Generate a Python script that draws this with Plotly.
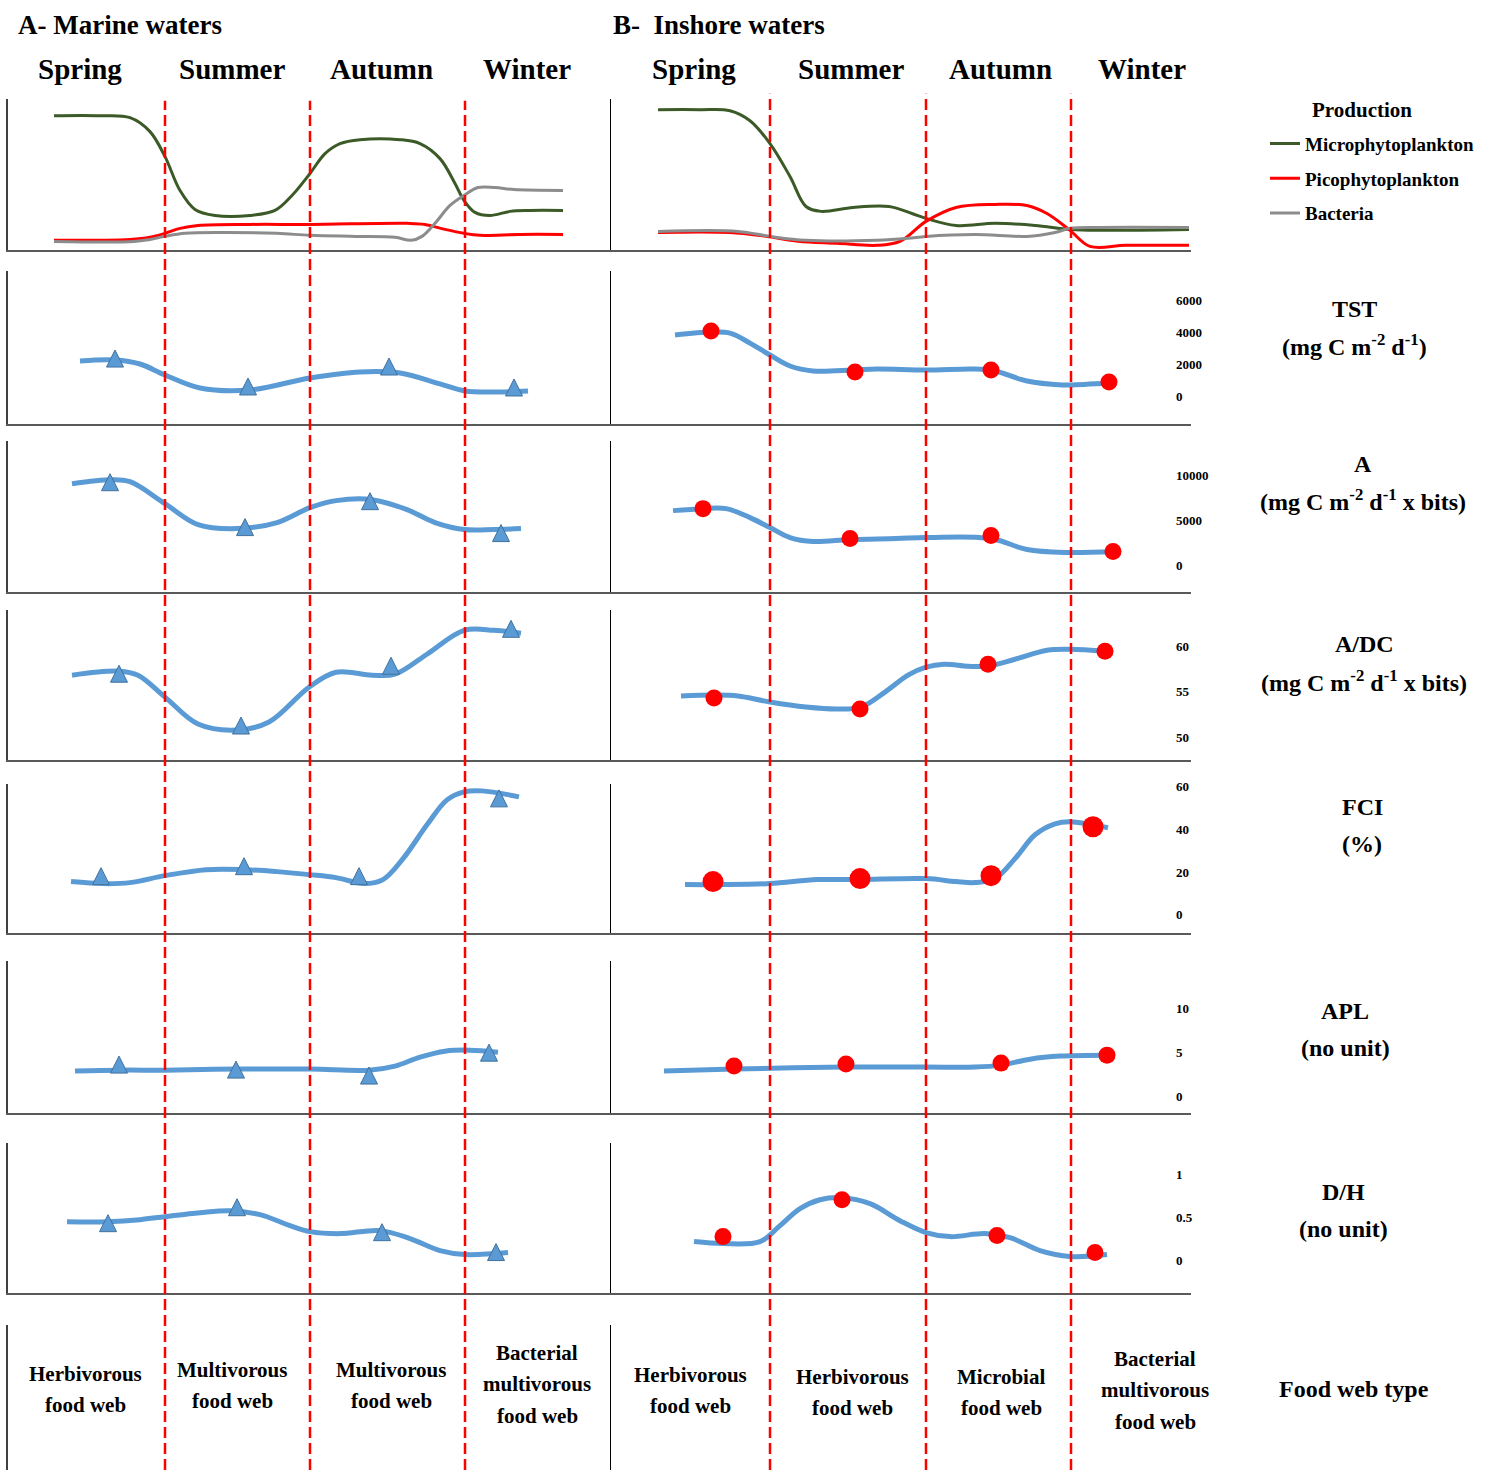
import plotly.graph_objects as go

W, H = 1499, 1470
FONT = "Liberation Serif"

# ---------------- data ----------------
seasons = ["Spring", "Summer", "Autumn", "Winter"]
season_bounds_A = [3.14, 6.04, 9.14]
season_bounds_B = [3.18, 6.30, 9.20]
time_range_A = [0, 12.04]
time_range_B = [0, 11.6]

# Production (relative units, 0-100)
micro_A_x = [0.92, 1.84, 2.44, 2.84, 3.14, 3.44, 3.74, 4.14, 4.84, 5.34, 5.68, 6.04, 6.34, 6.64, 7.04, 7.84, 8.24, 8.64, 8.94, 9.12, 9.34, 9.64, 10.04, 10.44, 11.10]
micro_A_y = [88.8, 88.8, 87.5, 78.3, 61.8, 39.5, 27.0, 23.0, 23.0, 26.3, 36.2, 50.7, 63.8, 70.4, 73.0, 73.0, 70.4, 60.5, 44.1, 32.9, 25.0, 23.0, 25.7, 26.3, 26.3]
pico_A_x = [0.92, 2.44, 2.84, 3.14, 3.44, 3.80, 4.84, 6.04, 7.98, 8.34, 8.74, 9.12, 9.44, 10.24, 11.10]
pico_A_y = [6.6, 7.2, 8.6, 11.2, 14.5, 16.4, 17.1, 17.1, 17.8, 17.1, 13.8, 11.2, 9.9, 10.5, 10.5]
bact_A_x = [0.92, 2.52, 2.84, 3.14, 3.54, 4.24, 5.38, 6.04, 6.96, 7.74, 8.06, 8.28, 8.54, 8.84, 9.12, 9.40, 9.74, 10.12, 11.10]
bact_A_y = [5.9, 5.9, 7.2, 9.2, 11.2, 11.8, 11.2, 9.9, 9.2, 8.6, 6.6, 9.2, 17.8, 29.6, 36.2, 41.4, 41.4, 40.1, 39.5]

micro_B_x = [0.94, 1.78, 2.38, 2.78, 3.18, 3.58, 3.90, 4.20, 4.84, 5.56, 6.02, 6.30, 6.90, 7.68, 8.48, 9.18, 9.74, 11.56]
micro_B_y = [92.8, 92.8, 92.1, 85.5, 70.4, 48.7, 28.9, 25.7, 28.3, 28.9, 24.3, 21.1, 16.4, 17.8, 16.4, 13.8, 13.2, 13.8]
pico_B_x = [0.94, 2.38, 3.10, 3.74, 4.52, 5.32, 5.78, 6.30, 6.90, 7.68, 8.32, 8.72, 9.18, 9.58, 10.30, 11.56]
pico_B_y = [11.8, 11.8, 9.2, 5.9, 4.6, 3.3, 5.9, 19.1, 28.3, 30.3, 29.6, 24.3, 13.2, 2.6, 3.3, 3.3]
bact_B_x = [0.94, 2.54, 3.18, 3.90, 5.32, 5.94, 6.30, 7.28, 8.32, 8.88, 9.18, 9.74, 11.56]
bact_B_y = [12.5, 12.5, 9.2, 6.6, 6.6, 7.9, 9.2, 10.5, 9.2, 11.8, 14.5, 15.1, 15.1]

# TST (mg C m-2 d-1)
tst_A_x = [1.44, 2.14, 2.64, 3.14, 3.84, 4.84, 6.04, 7.04, 7.84, 8.64, 9.14, 9.84, 10.40]
tst_A_y = [2226, 2288, 2041, 1360, 557, 433, 1175, 1546, 1484, 804, 371, 309, 371]
tst_A_mx = [2.14, 4.80, 7.62, 10.12]
tst_A_my = [2906, 1175, 2412, 1113]
tst_B_x = [1.28, 2.00, 2.38, 2.78, 3.18, 3.58, 4.04, 4.84, 5.32, 6.30, 7.28, 7.68, 8.32, 9.02, 9.18, 9.98]
tst_B_y = [3834, 4020, 3958, 3339, 2597, 1917, 1608, 1670, 1732, 1670, 1732, 1608, 989, 742, 742, 866]
tst_B_mx = [2.00, 4.88, 7.60, 9.96]
tst_B_my = [4081, 1546, 1670, 928]

# A (ascendency)
asc_A_x = [1.28, 2.06, 2.44, 3.14, 3.80, 4.58, 5.38, 6.04, 6.56, 7.28, 7.98, 8.54, 9.12, 9.72, 10.26]
asc_A_y = [9111, 9556, 9333, 6889, 4556, 4111, 4778, 6444, 7222, 7333, 6222, 4778, 4000, 4000, 4111]
asc_A_mx = [2.04, 4.74, 7.24, 9.86]
asc_A_my = [10222, 5222, 8111, 4556]
asc_B_x = [1.24, 1.84, 2.30, 2.78, 3.18, 3.58, 4.04, 4.78, 5.70, 6.30, 7.36, 7.76, 8.32, 9.10, 10.06]
asc_B_y = [6111, 6333, 6333, 5333, 4222, 3111, 2667, 2889, 3000, 3111, 3111, 2778, 1778, 1444, 1556]
asc_B_mx = [1.84, 4.78, 7.60, 10.04]
asc_B_my = [6333, 3000, 3333, 1556]

# A/DC
adc_A_x = [1.28, 2.22, 2.60, 3.14, 3.80, 4.58, 5.22, 6.02, 6.56, 7.28, 7.74, 8.38, 9.12, 9.72, 10.26]
adc_A_y = [56.81, 57.25, 56.81, 54.40, 51.43, 50.77, 51.65, 55.49, 57.14, 56.81, 56.92, 59.12, 61.76, 61.76, 61.43]
adc_A_mx = [2.22, 4.66, 7.66, 10.06]
adc_A_my = [57.91, 52.20, 58.79, 62.86]
adc_B_x = [1.40, 2.08, 2.54, 3.18, 3.90, 4.52, 5.00, 5.48, 5.94, 6.30, 6.66, 7.14, 7.52, 8.08, 8.72, 9.18, 9.90]
adc_B_y = [54.51, 54.62, 54.51, 53.85, 53.30, 53.08, 53.30, 54.95, 56.81, 57.69, 58.02, 57.80, 57.80, 58.57, 59.56, 59.67, 59.45]
adc_B_mx = [2.06, 4.98, 7.54, 9.88]
adc_B_my = [54.29, 53.08, 58.02, 59.45]

# FCI (%)
fci_A_x = [1.26, 1.90, 2.44, 3.14, 3.96, 4.74, 5.38, 6.02, 6.56, 7.12, 7.50, 7.90, 8.38, 8.78, 9.12, 9.48, 10.22]
fci_A_y = [15.47, 14.53, 15.00, 18.28, 21.10, 21.10, 20.16, 18.75, 17.35, 14.53, 16.41, 26.25, 42.19, 53.91, 57.67, 58.13, 55.32]
fci_A_mx = [1.86, 4.72, 7.02, 9.82]
fci_A_my = [22.03, 26.72, 22.03, 58.60]
fci_B_x = [1.48, 2.16, 3.18, 4.12, 4.92, 6.30, 6.90, 7.28, 7.68, 8.08, 8.48, 8.88, 9.18, 9.94]
fci_B_y = [14.06, 14.06, 14.53, 16.41, 16.41, 16.88, 15.47, 15.00, 16.88, 26.25, 37.51, 42.66, 43.60, 40.79]
fci_B_mx = [2.04, 4.98, 7.60, 9.64]
fci_B_my = [15.47, 16.88, 18.28, 41.26]

# APL (no unit)
apl_A_x = [1.34, 2.24, 3.14, 4.56, 6.04, 7.22, 7.74, 8.24, 8.74, 9.24, 9.80]
apl_A_y = [2.84, 2.95, 2.95, 3.07, 3.07, 2.95, 3.41, 4.43, 5.11, 5.23, 5.00]
apl_A_mx = [2.22, 4.56, 7.22, 9.62]
apl_A_my = [4.55, 3.98, 3.30, 5.91]
apl_B_x = [1.06, 2.46, 4.70, 6.30, 7.28, 7.80, 8.38, 8.98, 9.92]
apl_B_y = [2.84, 3.07, 3.30, 3.30, 3.30, 3.52, 4.20, 4.55, 4.66]
apl_B_mx = [2.46, 4.70, 7.80, 9.92]
apl_B_my = [3.41, 3.64, 3.75, 4.66]

# D/H (no unit)
dh_A_x = [1.18, 2.00, 2.64, 3.14, 3.84, 4.44, 5.04, 5.64, 6.04, 6.64, 7.44, 8.04, 8.64, 9.14, 10.00]
dh_A_y = [0.453, 0.453, 0.477, 0.512, 0.558, 0.581, 0.535, 0.407, 0.337, 0.314, 0.349, 0.256, 0.116, 0.070, 0.093]
dh_A_mx = [2.00, 4.58, 7.48, 9.76]
dh_A_my = [0.535, 0.721, 0.430, 0.198]
dh_B_x = [1.66, 2.24, 2.98, 3.38, 3.78, 4.18, 4.62, 5.18, 5.78, 6.30, 6.78, 7.48, 7.98, 8.58, 9.18, 9.92]
dh_B_y = [0.221, 0.198, 0.221, 0.407, 0.605, 0.709, 0.733, 0.663, 0.465, 0.326, 0.279, 0.314, 0.267, 0.116, 0.047, 0.070]
dh_B_mx = [2.24, 4.62, 7.72, 9.68]
dh_B_my = [0.279, 0.709, 0.291, 0.093]

# axis ranges and tick labels per row
prod_range = [0, 100]
tst_range, tst_ticks = [-1670, 7792], [0, 2000, 4000, 6000]
asc_range, asc_ticks = [-3000, 13889], [0, 5000, 10000]
adc_range, adc_ticks = [47.47, 63.96], [50, 55, 60]
fci_range, fci_ticks = [-8.91, 61.42], [0, 20, 40, 60]
apl_range, apl_ticks = [-1.93, 15.34], [0, 5, 10]
dh_range, dh_ticks = [-0.384, 1.372], [0, 0.5, 1]
dh_ticktext = ["0", "0.5", "1"]

metric_labels = [
    ("TST", "(mg C m<sup>-2</sup> d<sup>-1</sup>)"),
    ("A", "(mg C m<sup>-2</sup> d<sup>-1</sup> x bits)"),
    ("A/DC", "(mg C m<sup>-2</sup> d<sup>-1</sup> x bits)"),
    ("FCI", "(%)"),
    ("APL", "(no unit)"),
    ("D/H", "(no unit)"),
]
foodweb_A = ["Herbivorous\nfood web", "Multivorous\nfood web", "Multivorous\nfood web", "Bacterial\nmultivorous\nfood web"]
foodweb_B = ["Herbivorous\nfood web", "Herbivorous\nfood web", "Microbial\nfood web", "Bacterial\nmultivorous\nfood web"]

# ---------------- layout geometry (pixels) ----------------
col_px = {"A": (8, 610), "B": (611, 1191)}
row_px = [(95, 247), (268, 421), (438, 590), (608, 758), (782, 932), (960, 1112), (1142, 1293), (1325, 1470)]
row_ranges = [prod_range, tst_range, asc_range, adc_range, fci_range, apl_range, dh_range, [0, 1]]
row_ticks = [None, (tst_ticks, [str(v) for v in tst_ticks]), (asc_ticks, [str(v) for v in asc_ticks]),
             (adc_ticks, [str(v) for v in adc_ticks]), (fci_ticks, [str(v) for v in fci_ticks]),
             (apl_ticks, [str(v) for v in apl_ticks]), (dh_ticks, dh_ticktext), None]
label_rows_center = [None, (1354, 306, 342), (1363, 461, 497), (1364, 642, 679), (1362, 805, 842),
                     (1345, 1010, 1047), (1343, 1191, 1228)]


def px_x(p):
    return p / W


def px_y(p):
    return 1 - p / H


def ax_id(r, c):
    return r * 2 + c + 1


def suffix(k):
    return "" if k == 1 else str(k)


GREEN = "#3B5A27"
RED = "#FF0000"
GRAY = "#8C8C8C"
BLUE = "#5B9BD5"

fig = go.Figure()
layout = dict(
    width=W, height=H, margin=dict(l=0, r=0, t=0, b=0),
    paper_bgcolor="white", plot_bgcolor="rgba(0,0,0,0)",
    font=dict(family=FONT, color="black"),
    showlegend=True,
)

time_ranges = {"A": time_range_A, "B": time_range_B}
for r in range(8):
    for c, col in enumerate("AB"):
        k = ax_id(r, c)
        s = suffix(k)
        layout["xaxis" + s] = dict(
            domain=[px_x(col_px[col][0]), px_x(col_px[col][1])], range=time_ranges[col],
            anchor="y" + s, showgrid=False, zeroline=False, showticklabels=False, ticks="",
            showline=(r < 7), linecolor="#595959", linewidth=2, fixedrange=True)
        layout["yaxis" + s] = dict(
            domain=[px_y(row_px[r][1]), px_y(row_px[r][0])], range=row_ranges[r],
            anchor="x" + s, showgrid=False, zeroline=False, showticklabels=False, ticks="",
            showline=True, linecolor="#404040" if c == 0 else "black",
            linewidth=2 if c == 0 else 1.3, fixedrange=True)
        fig.add_trace(go.Scatter(x=[], y=[], xaxis="x" + s, yaxis="y" + s,
                                 showlegend=False, hoverinfo="skip"))

# right-side tick-label axes for inshore panels
for r in range(1, 7):
    k = 16 + r
    base = ax_id(r, 1)
    tv, tt = row_ticks[r]
    layout["yaxis" + str(k)] = dict(
        overlaying="y" + suffix(base), side="right", anchor="free", position=px_x(1175),
        range=row_ranges[r], tickvals=tv, ticktext=tt, showgrid=False, zeroline=False,
        showline=False, ticks="", fixedrange=True,
        tickfont=dict(family=FONT, size=13, color="black", weight="bold"))
    fig.add_trace(go.Scatter(x=[], y=[], xaxis="x" + suffix(base), yaxis="y" + str(k),
                             showlegend=False, hoverinfo="skip"))

# production curves
prod = {
    "A": [(micro_A_x, micro_A_y), (pico_A_x, pico_A_y), (bact_A_x, bact_A_y)],
    "B": [(micro_B_x, micro_B_y), (pico_B_x, pico_B_y), (bact_B_x, bact_B_y)],
}
prod_names = ["Microphytoplankton", "Picophytoplankton", "Bacteria"]
prod_colors = [GREEN, RED, GRAY]
for c, col in enumerate("AB"):
    s = suffix(ax_id(0, c))
    for i, (xs, ys) in enumerate(prod[col]):
        fig.add_trace(go.Scatter(
            x=xs, y=ys, mode="lines", line=dict(color=prod_colors[i], width=3, shape="spline", smoothing=1.0),
            name=prod_names[i], legendgroup=prod_names[i], showlegend=(c == 0),
            xaxis="x" + s, yaxis="y" + s, hoverinfo="skip"))

# metric curves
metrics = [
    (tst_A_x, tst_A_y, tst_A_mx, tst_A_my, tst_B_x, tst_B_y, tst_B_mx, tst_B_my),
    (asc_A_x, asc_A_y, asc_A_mx, asc_A_my, asc_B_x, asc_B_y, asc_B_mx, asc_B_my),
    (adc_A_x, adc_A_y, adc_A_mx, adc_A_my, adc_B_x, adc_B_y, adc_B_mx, adc_B_my),
    (fci_A_x, fci_A_y, fci_A_mx, fci_A_my, fci_B_x, fci_B_y, fci_B_mx, fci_B_my),
    (apl_A_x, apl_A_y, apl_A_mx, apl_A_my, apl_B_x, apl_B_y, apl_B_mx, apl_B_my),
    (dh_A_x, dh_A_y, dh_A_mx, dh_A_my, dh_B_x, dh_B_y, dh_B_mx, dh_B_my),
]
for i, m in enumerate(metrics):
    r = i + 1
    for c in range(2):
        s = suffix(ax_id(r, c))
        lx, ly, mx, my = m[c * 4: c * 4 + 4]
        fig.add_trace(go.Scatter(x=lx, y=ly, mode="lines",
                                 line=dict(color=BLUE, width=5, shape="spline", smoothing=1.0),
                                 xaxis="x" + s, yaxis="y" + s, showlegend=False, hoverinfo="skip"))
        if c == 0:
            mk = dict(symbol="arrow-up", size=17, color=BLUE, line=dict(color="#41719C", width=1))
        else:
            mk = dict(symbol="circle", size=21 if r == 4 else 17, color=RED, line=dict(width=0))
        fig.add_trace(go.Scatter(x=mx, y=my, mode="markers", marker=mk,
                                 xaxis="x" + s, yaxis="y" + s, showlegend=False, hoverinfo="skip"))

# season boundary dashed lines
shapes = []
for c, (bounds, top) in enumerate([(season_bounds_A, 97), (season_bounds_B, 90)]):
    s = suffix(ax_id(0, c))
    for b in bounds:
        shapes.append(dict(type="line", xref="x" + s, yref="paper", x0=b, x1=b, y0=0, y1=px_y(top),
                           line=dict(color=RED, width=2.5, dash="11px,5px"), layer="above"))
layout["shapes"] = shapes

# text
ann = []


def add_text(text, x, y, size, xanchor="center"):
    ann.append(dict(text="<b>" + text + "</b>", x=px_x(x), y=px_y(y), xref="paper", yref="paper",
                    xanchor=xanchor, yanchor="middle", showarrow=False,
                    font=dict(family=FONT, size=size, color="black")))


add_text("A- Marine waters", 16, 21, 27, "left")
add_text("B-  Inshore waters", 611, 21, 27, "left")
for name, x in zip(seasons, [80, 232, 381, 527]):
    add_text(name, x, 65, 29)
for name, x in zip(seasons, [694, 851, 1000, 1142]):
    add_text(name, x, 65, 29)
add_text("Production", 1362, 106, 21)

for r in range(1, 7):
    t1, t2 = metric_labels[r - 1]
    cx, y1, y2 = label_rows_center[r]
    add_text(t1, cx, y1, 24)
    add_text(t2, cx, y2, 24)
add_text("Food web type", 1354, 1389, 24)

fw_centers_A = [85, 232, 391, 537]
fw_centers_B = [690, 852, 1001, 1155]
for labels, centers, ymid in [(foodweb_A, fw_centers_A, [1389, 1385, 1385, 1384]),
                              (foodweb_B, fw_centers_B, [1390, 1392, 1392, 1390])]:
    for lab, cx, ym in zip(labels, centers, ymid):
        lines = lab.split("\n")
        n = len(lines)
        for j, line in enumerate(lines):
            add_text(line, cx, ym + (j - (n - 1) / 2) * 31.5, 21)

layout["annotations"] = ann
layout["legend"] = dict(x=px_x(1265), y=px_y(121), xanchor="left", yanchor="top",
                        bgcolor="rgba(0,0,0,0)", borderwidth=0, tracegroupgap=7,
                        font=dict(family=FONT, size=19, color="black", weight="bold"))

fig.update_layout(**layout)
fig.write_html("out.html", config={"displayModeBar": False},
               post_script="document.body.style.margin='0';document.body.style.overflow='hidden';")
